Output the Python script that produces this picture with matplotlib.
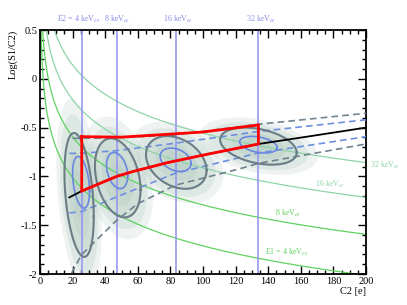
import numpy as np
import matplotlib.pyplot as plt
from matplotlib.transforms import blended_transform_factory

plt.rcParams["font.family"] = ["Liberation Serif", "DejaVu Serif"]
plt.rcParams["mathtext.fontset"] = "stix"

# -----------------------------
# Data
# -----------------------------
# E2 energy lines (C2 position of each mono-energetic peak)
e2_c2 = [25.6, 47.4, 83.4, 134.0]
e2_labels = ["E2 = 4 keV$_{ee}$", "8 keV$_{ee}$", "16 keV$_{ee}$", "32 keV$_{ee}$"]
e2_label_x = [23.9, 47.4, 84.5, 135.5]

# E1 iso-energy curves: constant S1
e1_s1 = [1.94, 5.1, 12.2, 27.7]
e1_labels = ["E1 = 4 keV$_{ee}$", "8 keV$_{ee}$", "16 keV$_{ee}$", "32 keV$_{ee}$"]
e1_label_x = [151.5, 152.0, 178.0, 212.0]
e1_label_y = [-1.775, -1.378, -1.08, -0.883]

# band mean line
mean_c2 = [18, 25.6, 37, 47, 57, 78, 102, 123, 134, 165, 200]
mean_y = [-1.215, -1.15, -1.07, -1.0, -0.95, -0.86, -0.775, -0.705, -0.668, -0.59, -0.50]

# +-1 sigma band (blue dashed)
blue_up_c2 = [18, 25.6, 47, 83, 134, 200]
blue_up_y = [-0.765, -0.763, -0.736, -0.66, -0.54, -0.42]
blue_lo_c2 = [18, 25.6, 47, 83, 134, 200]
blue_lo_y = [-1.375, -1.36, -1.21, -0.968, -0.76, -0.593]

# outer band (gray dashed)
gray_up_c2 = [20, 47, 83, 134, 200]
gray_up_y = [-0.61, -0.605, -0.575, -0.466, -0.353]
gray_lo_c2 = [19.4, 25.6, 47, 60, 83, 123, 134, 200]
gray_lo_y = [-1.99, -1.80, -1.45, -1.28, -1.09, -0.92, -0.866, -0.668]

# selection box (red)
red_top_c2 = [25.6, 50, 75, 100, 134]
red_top_y = [-0.593, -0.598, -0.572, -0.545, -0.473]
red_bot_c2 = [25.6, 37, 47, 57, 78, 102, 123, 134]
red_bot_y = [-1.15, -1.07, -1.0, -0.95, -0.86, -0.775, -0.705, -0.668]

# peak contours: centre C2, centre y, sigma C2, sigma y, correlation
outer_cx = [24.0, 47.7, 83.6, 134.0]
outer_cy = [-1.19, -1.015, -0.857, -0.69]
outer_sx = [9.0, 14.0, 18.6, 23.5]
outer_sy = [0.635, 0.405, 0.27, 0.19]
outer_rho = [-0.35, -0.3, -0.3, -0.35]

inner_cx = [25.2, 47.3, 83.2, 134.0]
inner_cy = [-1.06, -0.94, -0.83, -0.675]
inner_sx = [5.2, 6.5, 9.5, 11.5]
inner_sy = [0.265, 0.185, 0.12, 0.085]
inner_rho = [-0.35, -0.3, -0.3, -0.35]

# scatter cloud extent relative to the outer contour
cloud_scale = [1.55, 1.3, 1.0, 0.7, 0.4]
cloud_alpha = [0.22, 0.28, 0.32, 0.32, 0.3]


def ellipse(cx, cy, sx, sy, rho, scale=1.0):
    t = np.linspace(0, 2 * np.pi, 240)
    x = cx + scale * sx * np.cos(t)
    y = cy + scale * sy * (rho * np.cos(t) + np.sqrt(1 - rho ** 2) * np.sin(t))
    return x, y


# -----------------------------
# Figure
# -----------------------------
fig = plt.figure(figsize=(4.07, 3.05), dpi=100)
ax = fig.add_axes([40 / 407, 31 / 305, 326 / 407, 244 / 305])
ax.set_xlim(0, 200)
ax.set_ylim(-2, 0.5)

# scatter clouds, drawn as soft density blobs
for i in range(4):
    for s, a in zip(cloud_scale, cloud_alpha):
        x, y = ellipse(outer_cx[i], outer_cy[i], outer_sx[i], outer_sy[i], outer_rho[i], s)
        ax.fill(x, y, color="#b4cbc0", alpha=a, lw=0, zorder=1)

# E1 iso-energy curves
c2_grid = np.linspace(0.3, 200, 800)
green_cols = ["#5fd35f", "#5fd35f", "#8fd4a8", "#8fd4a8"]
for s1, col in zip(e1_s1, green_cols):
    ax.plot(c2_grid, np.log10(s1 / c2_grid), color=col, lw=0.9, zorder=2)

# E2 vertical lines
for c2 in e2_c2:
    ax.axvline(c2, color="#9898f0", lw=1.2, zorder=2)

# bands
dash = (0, (4, 2.5))
ax.plot(gray_up_c2, gray_up_y, color="#6f8290", lw=1.2, ls=dash, zorder=3)
ax.plot(gray_lo_c2, gray_lo_y, color="#6f8290", lw=1.2, ls=dash, zorder=3)
ax.plot(blue_up_c2, blue_up_y, color="#6e8fe0", lw=1.2, ls=dash, zorder=3)
ax.plot(blue_lo_c2, blue_lo_y, color="#6e8fe0", lw=1.2, ls=dash, zorder=3)

# peak contours
for i in range(4):
    x, y = ellipse(outer_cx[i], outer_cy[i], outer_sx[i], outer_sy[i], outer_rho[i])
    ax.plot(x, y, color="#6b7d86", lw=1.5, zorder=4)
    x, y = ellipse(inner_cx[i], inner_cy[i], inner_sx[i], inner_sy[i], inner_rho[i])
    ax.plot(x, y, color="#6a86e0", lw=1.2, zorder=4)

# mean line
ax.plot(mean_c2, mean_y, color="black", lw=1.3, zorder=5)

# red selection region
red_x = red_top_c2 + [red_bot_c2[-1]] + red_bot_c2[::-1] + [red_top_c2[0]]
red_y = red_top_y + [red_bot_y[-1]] + red_bot_y[::-1] + [red_top_y[0]]
ax.plot(red_x, red_y, color="#ff0000", lw=2.0, zorder=6, solid_joinstyle="miter")

# labels
top = blended_transform_factory(ax.transData, ax.transAxes)
for x, txt in zip(e2_label_x, e2_labels):
    ax.text(x, 1.045, txt, transform=top, ha="center", va="center",
            fontsize=5.8, color="#8a8ae8", clip_on=False)
for x, y, txt, col in zip(e1_label_x, e1_label_y, e1_labels, green_cols):
    ax.text(x, y, txt, ha="center", va="center", fontsize=5.8, color=col, clip_on=False)

ax.set_xlabel("C2 [e]", loc="right", fontsize=7.5, labelpad=1)
ax.set_ylabel("Log(S1/C2)", loc="top", fontsize=7.5, labelpad=2)

# ticks, ROOT style
ax.set_xticks(np.arange(0, 201, 20))
ax.set_xticks(np.arange(0, 201, 5), minor=True)
ax.set_yticks([-2, -1.5, -1, -0.5, 0, 0.5])
ax.set_yticklabels(["-2", "-1.5", "-1", "-0.5", "0", "0.5"])
ax.set_yticks(np.arange(-2, 0.51, 0.1), minor=True)
ax.tick_params(which="both", direction="in", top=True, right=True, labelsize=7.5, pad=2)
ax.tick_params(which="major", length=6, width=1.0)
ax.tick_params(which="minor", length=3, width=1.0)
for sp in ax.spines.values():
    sp.set_linewidth(1.3)

fig.savefig("out.png", dpi=100)
